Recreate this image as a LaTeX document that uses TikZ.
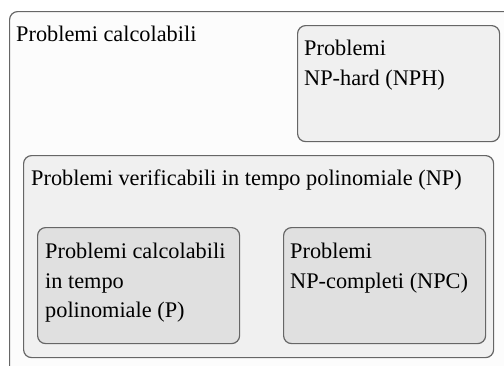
\documentclass[tikz,border=0pt]{standalone}
\usepackage{fontspec}
\setmainfont{Liberation Serif}
\usetikzlibrary{positioning}

\definecolor{edgegray}{HTML}{666666}
\definecolor{outerfill}{HTML}{FCFCFC}
\definecolor{midfill}{HTML}{F0F0F0}
\definecolor{innerfill}{HTML}{E0E0E0}

\begin{document}
\begin{tikzpicture}[x=1pt,y=-1pt,
    box/.style={draw=edgegray, line width=1.2pt, rounded corners=8pt, anchor=north west, inner sep=0pt},
    lbl/.style={align=left, inner sep=0pt, font=\fontsize{22.3}{29.5}\selectfont}]
    % Picture frame
    \clip (0,0) rectangle (504,365);
    % Outer set: computable problems
    \node[box, fill=outerfill, minimum width=530pt, minimum height=380pt] (calc) at (9,11) {};
    \node[lbl, below right=15pt and 7pt of calc.north west] (calclbl) {Problemi calcolabili};
    % NP-hard
    \node[box, fill=midfill, minimum width=202pt, minimum height=116pt] (nph) at (297,25) {};
    \node[lbl, below right=15pt and 7pt of nph.north west] (nphlbl) {Problemi\\NP-hard (NPH)};
    % NP
    \node[box, fill=midfill, minimum width=470pt, minimum height=202pt] (np) at (23,155) {};
    \node[lbl, below right=15pt and 8pt of np.north west] (nplbl) {Problemi verificabili in tempo polinomiale (NP)};
    % P and NPC inside NP
    \node[box, fill=innerfill, minimum width=202pt, minimum height=116pt] (p) at (37,227) {};
    \node[lbl, below right=16pt and 8pt of p.north west] (plbl) {Problemi calcolabili\\in tempo\\polinomiale (P)};
    \node[box, fill=innerfill, minimum width=202pt, minimum height=116pt] (npc) at (283,227) {};
    \node[lbl, below right=16pt and 7pt of npc.north west] (npclbl) {Problemi\\NP-completi (NPC)};
\end{tikzpicture}
\end{document}
